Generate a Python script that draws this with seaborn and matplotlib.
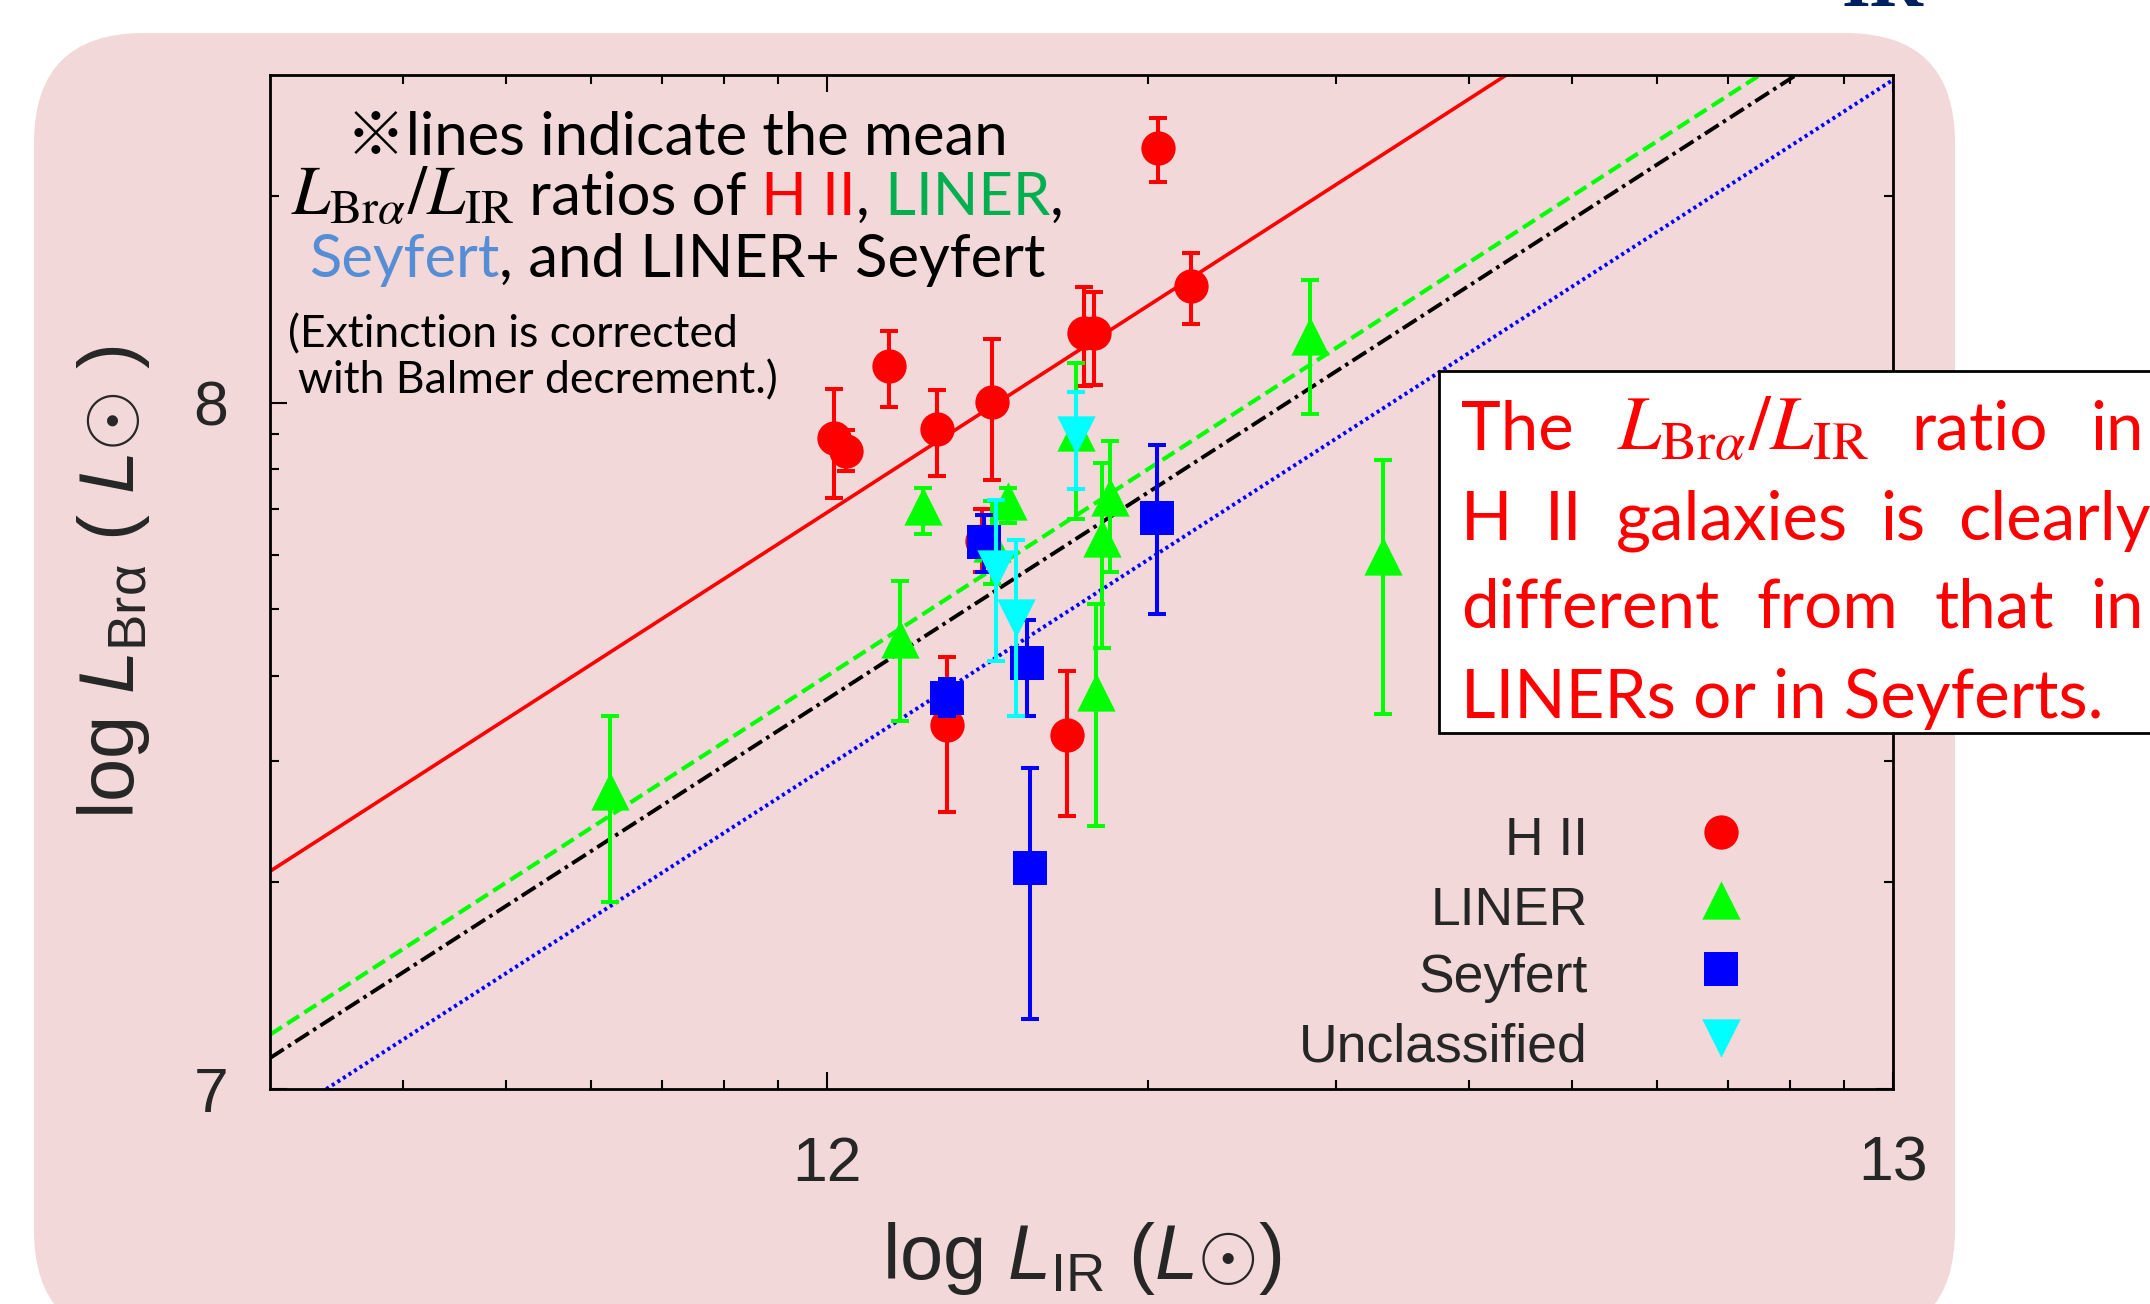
import numpy as np
import pandas as pd
import matplotlib
matplotlib.use("Agg")
import matplotlib.pyplot as plt
from matplotlib.patches import FancyBboxPatch, Rectangle
from matplotlib.transforms import IdentityTransform
import seaborn as sns

# ---- data: log L_IR, log L_Bra and the ends of each error bar ----
hii_x  = [12.006, 12.018, 12.058, 12.103, 12.155, 12.241, 12.250, 12.310, 12.341, 12.112, 12.225, 12.145]
hii_y  = [7.948, 7.930, 8.053, 7.961, 8.001, 8.102, 8.102, 8.371, 8.170, 7.530, 7.515, 7.799]
hii_lo = [7.861, 7.900, 7.994, 7.893, 7.887, 8.024, 8.026, 8.321, 8.115, 7.403, 7.397, 7.753]
hii_hi = [8.019, 7.960, 8.104, 8.018, 8.092, 8.168, 8.161, 8.415, 8.218, 7.630, 7.609, 7.845]

liner_x  = [11.796, 12.068, 12.090, 12.170, 12.155, 12.233, 12.265, 12.258, 12.252, 12.453, 12.521]
liner_y  = [7.434, 7.656, 7.849, 7.856, 7.796, 7.957, 7.862, 7.803, 7.578, 8.097, 7.777]
liner_lo = [7.272, 7.536, 7.808, 7.824, 7.735, 7.830, 7.753, 7.643, 7.383, 7.983, 7.547]
liner_hi = [7.543, 7.740, 7.875, 7.875, 7.856, 8.057, 7.944, 7.912, 7.707, 8.179, 7.917]

sey_x  = [12.112, 12.147, 12.187, 12.190, 12.309]
sey_y  = [7.570, 7.797, 7.621, 7.322, 7.832]
sey_lo = [7.543, 7.753, 7.544, 7.102, 7.692]
sey_hi = [7.597, 7.836, 7.683, 7.468, 7.938]

unc_x  = [12.233, 12.158, 12.177]
unc_y  = [7.952, 7.757, 7.686]
unc_lo = [7.874, 7.624, 7.543]
unc_hi = [8.015, 7.858, 7.800]

# mean log(L_Bra / L_IR) of each class
ratio_hii = -4.160
ratio_liner = -4.398
ratio_liner_sey = -4.432
ratio_sey = -4.530

W, H = 2150, 1304
PINK = "#F2D8D8"
TICK_FONT = ["Liberation Sans", "DejaVu Sans"]
TXT_FONT = ["Lato", "Noto Sans CJK JP", "DejaVu Sans"]

sns.set_style("ticks", {"xtick.direction": "in", "ytick.direction": "in"})
plt.rcParams["font.family"] = TICK_FONT
plt.rcParams["mathtext.fontset"] = "custom"
plt.rcParams["mathtext.rm"] = "Liberation Sans"
plt.rcParams["mathtext.it"] = "Liberation Sans:italic"
plt.rcParams["mathtext.bf"] = "Liberation Sans:bold"

fig = plt.figure(figsize=(W / 100, H / 100), dpi=100, facecolor="white")

# rounded slide panel behind the plot
bg = FancyBboxPatch((34, H - 1340), 1921, 1340 - 33,
                    boxstyle="round,pad=0,rounding_size=110",
                    transform=IdentityTransform(), facecolor=PINK,
                    edgecolor="none", zorder=-5)
fig.add_artist(bg)

# bit of the slide title peeking in at the top
fig.text(1842 / W, 1 - 6 / H, "IR", family="Liberation Serif", weight="bold",
         color="#002060", fontsize=53, va="baseline", ha="left")

ax = fig.add_axes([270 / W, 1 - 1089 / H, 1623 / W, 1014 / H])
ax.set_facecolor(PINK)

# mean-ratio lines (slope 1 in log-log)
ax.axline((12, 12 + ratio_hii), slope=1, color="#FF0000", lw=2.6, zorder=2)
ax.axline((12, 12 + ratio_liner), slope=1, color="#00FF00", lw=3.0,
          dashes=(3.4, 1.5), zorder=2)
ax.axline((12, 12 + ratio_liner_sey), slope=1, color="black", lw=2.8,
          dashes=(4.2, 1.3, 0.9, 1.3), zorder=2)
ax.axline((12, 12 + ratio_sey), slope=1, color="#0000FF", lw=2.8,
          dashes=(0.8, 0.9), zorder=2)

groups = [
    ("H II", hii_x, hii_y, hii_lo, hii_hi, "#FF0000", "o", 610),
    ("LINER", liner_x, liner_y, liner_lo, liner_hi, "#00FF00", "^", 760),
    ("Seyfert", sey_x, sey_y, sey_lo, sey_hi, "#0000FF", "s", 630),
    ("Unclassified", unc_x, unc_y, unc_lo, unc_hi, "#00FFFF", "v", 760),
]

for i, (name, x, y, lo, hi, color, marker, size) in enumerate(groups):
    d = pd.DataFrame({"x": x, "y": y, "lo": lo, "hi": hi})
    ax.errorbar(d["x"], d["y"], yerr=[d["y"] - d["lo"], d["hi"] - d["y"]],
                fmt="none", ecolor=color, elinewidth=2.9, capsize=6.5,
                capthick=2.9, zorder=3 + 2 * i)
    sns.scatterplot(data=d, x="x", y="y", color=color, marker=marker, s=size,
                    linewidth=0, ax=ax, zorder=4 + 2 * i)

# legend: labels on the left, symbols on the right
leg_text_y = [855, 925, 992, 1062]
leg_mark_y = [832, 900, 969, 1038]
for (name, *_, color, marker, size), ty, my in zip(groups, leg_text_y, leg_mark_y):
    ax.text((1588 - 270) / 1623, (1089 - ty) / 1014, name, transform=ax.transAxes,
            ha="right", va="baseline", fontsize=38.5, family=TICK_FONT)
    ax.scatter([(1721 - 270) / 1623], [(1089 - my) / 1014], transform=ax.transAxes,
               marker=marker, s=size, color=color, linewidths=0, clip_on=False,
               zorder=20)

# axes: log-spaced ticks shown in log units
ax.set_xlim(np.log10(3e11), 13)
ax.set_ylim(7, np.log10(3e8))
ax.set_xticks([12, 13])
ax.set_xticklabels(["12", "13"])
ax.set_yticks([7, 8])
ax.set_yticklabels(["7", "8"])
ax.set_xticks([n + np.log10(k) for n in (11, 12) for k in range(2, 10)
               if n + np.log10(k) > np.log10(3e11)], minor=True)
ax.set_yticks([n + np.log10(k) for n in (7, 8) for k in range(2, 10)
               if n + np.log10(k) < np.log10(3e8) - 1e-6], minor=True)
ax.tick_params(which="both", direction="in", top=True, right=True, width=1.5,
               color="black")
ax.tick_params(which="major", length=12, labelsize=45)
ax.tick_params(which="minor", length=6.5)
ax.tick_params(axis="x", which="major", pad=33)
ax.tick_params(axis="y", which="major", pad=30)
for sp in ax.spines.values():
    sp.set_linewidth(2)
    sp.set_color("black")
    sp.set_visible(True)

ax.set_xlabel(r"log $L_{\mathrm{IR}}$ ($L{\odot}$)", fontsize=56, family=TICK_FONT)
ax.set_ylabel("log $L_{\\mathrm{Br\u03b1}}$ ( $L{\\odot}$ )", fontsize=56,
              family=TICK_FONT)
ax.xaxis.set_label_coords(0.5, -0.129)
ax.yaxis.set_label_coords(-0.0727, 0.5)
ax.xaxis.label.set_va("top")

# ---- annotation texts ----
renderer = fig.canvas.get_renderer()
MATH_SCALE = 1.15  # the Cambria-style ratio runs a bit larger than the text


def rich_line(pieces, x, y, size, how="left", right=None, family=TXT_FONT):
    arts = []
    for s, c in pieces:
        fs = size * MATH_SCALE if s.startswith("$") else size
        arts.append(fig.text(0, 0, s, color=c, fontsize=fs, family=family,
                             math_fontfamily="stix", transform=IdentityTransform(),
                             va="baseline", ha="left", zorder=6))
    widths = [t.get_window_extent(renderer).width for t in arts]
    gap = 0.0
    start = x
    if how == "justify":
        gap = (right - x - sum(widths)) / (len(arts) - 1)
    elif how == "center":
        start = x - sum(widths) / 2
    for t, w in zip(arts, widths):
        t.set_position((start, H - y))
        start += w + gap


ratio_tex = r"$L_{\mathrm{Br}\alpha}/L_{\mathrm{IR}}$"
rich_line([("\u203blines indicate the mean", "black")], 677, 155, 43, how="center")
rich_line([(ratio_tex, "black"), (" ratios of", "black"), (" H II", "#FF0000"),
           (",", "black"), (" LINER", "#00B050"), (",", "black")], 677, 215, 43, how="center")
rich_line([("Seyfert", "#558ED5"), (",", "black"), (" and LINER+ Seyfert", "black")],
          677, 277, 43, how="center")
rich_line([("(Extinction is corrected", "black")], 288, 347, 32)
rich_line([("with Balmer decrement.)", "black")], 298, 393, 32)

# boxed conclusion
box = Rectangle((1439, H - 733), 800, 362, transform=IdentityTransform(),
                facecolor="white", edgecolor="black", lw=2, zorder=5)
fig.add_artist(box)
red = "#FF0000"
rich_line([("The", red), (ratio_tex, red), ("ratio", red), ("in", red)],
          1461, 450, 48.5, how="justify", right=2144)
rich_line([("H", red), ("II", red), ("galaxies", red), ("is", red), ("clearly", red)],
          1461, 540, 48.5, how="justify", right=2151)
rich_line([("different", red), ("from", red), ("that", red), ("in", red)],
          1461, 628, 48.5, how="justify", right=2144)
rich_line([("LINERs or in Seyferts.", red)], 1461, 718, 48.5)

fig.savefig("out.png", dpi=100, facecolor="white")
